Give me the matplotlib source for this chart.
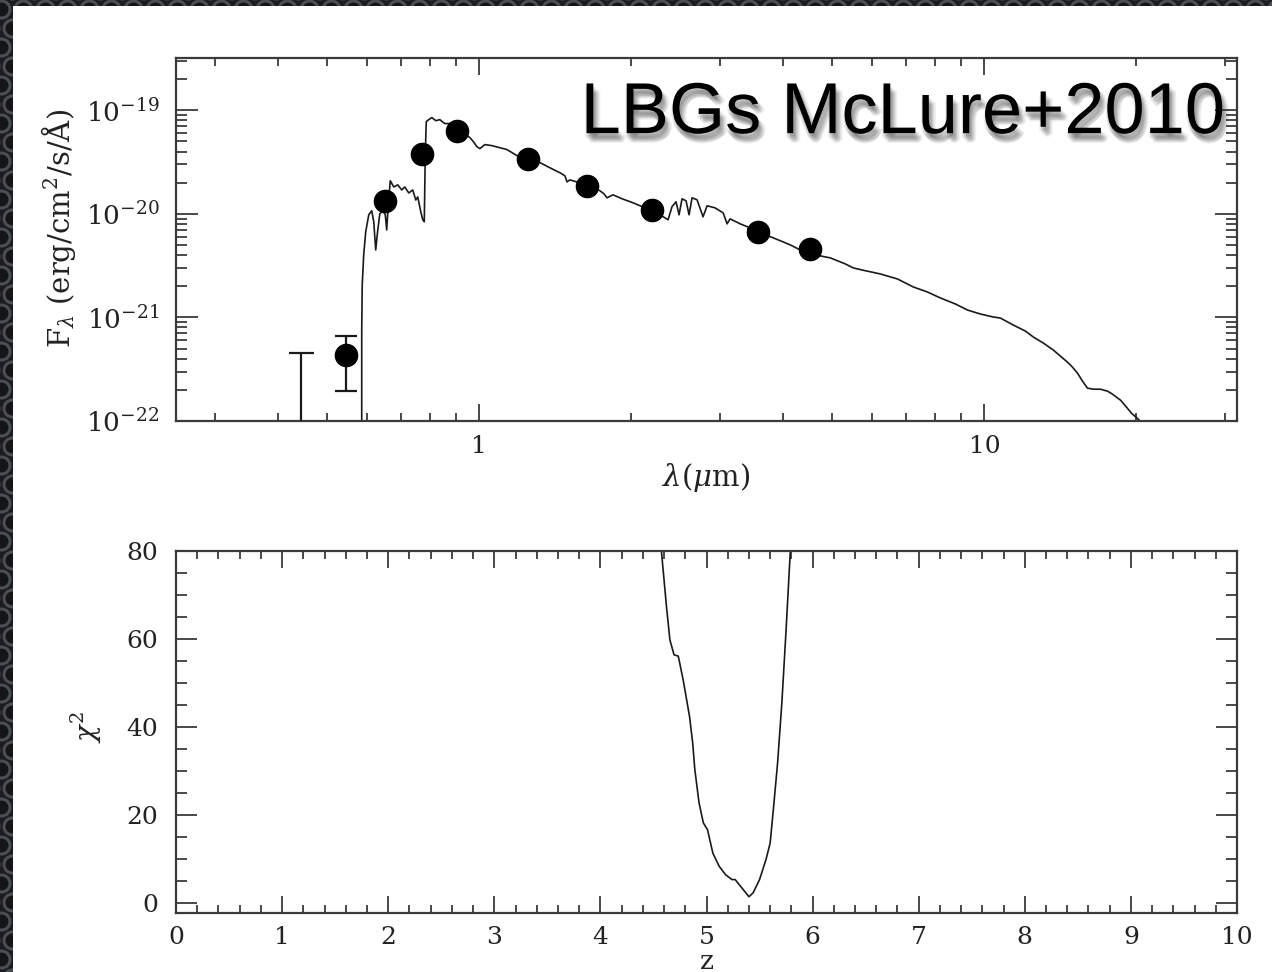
import numpy as np
import matplotlib
matplotlib.use('Agg')
import matplotlib.pyplot as plt
import matplotlib.patheffects as pe
from matplotlib.patches import Rectangle
from matplotlib.ticker import LogLocator, MultipleLocator, NullFormatter, FixedLocator, FixedFormatter

plt.rcParams['font.family'] = ['DejaVu Serif']
plt.rcParams['mathtext.fontset'] = 'dejavuserif'

# --- photometry (um, erg/cm2/s/A) ---
phot_lam = [0.546, 0.652, 0.769, 0.902, 1.25, 1.633, 2.20, 3.57, 4.51]
phot_flux = [4.33e-22, 1.34e-20, 3.82e-20, 6.31e-20, 3.39e-20, 1.87e-20, 1.10e-20, 6.67e-21, 4.56e-21]
phot_err_lo = [2.39e-22, 0, 0, 0, 0, 0, 0, 0.43e-21, 0.25e-21]
phot_err_hi = [2.32e-22, 0, 0, 0, 0, 0, 0, 0.46e-21, 0.26e-21]

# upper limit (bar going down out of the plot)
ulim_lam = [0.445]
ulim_flux = [4.55e-22]

sed_loglam = [-0.2324, -0.2324, -0.2314, -0.2285, -0.2245, -0.2185, -0.2126, -0.2086, -0.2047,
              -0.2017, -0.1967, -0.1908, -0.1858, -0.1829, -0.1799, -0.1759, -0.169, -0.1611,
              -0.1532, -0.1472, -0.1393, -0.1314, -0.1254, -0.1215, -0.1155, -0.1116, -0.1086,
              -0.1066, -0.1046, -0.0997, -0.0937, -0.0858, -0.0779, -0.068, -0.058, -0.0481,
              -0.0382, -0.0283, -0.0184, -0.0115, -0.0046, 0.0014, 0.0113, 0.0251, 0.041,
              0.0549, 0.0747, 0.0965, 0.1203, 0.1401, 0.1603, 0.1697, 0.1738, 0.1797, 0.1995,
              0.2193, 0.2391, 0.2471, 0.253, 0.2649, 0.2827, 0.3045, 0.3323, 0.358, 0.3739,
              0.3818, 0.3897, 0.3957, 0.4016, 0.4095, 0.4155, 0.4214, 0.4313, 0.4432, 0.4512,
              0.467, 0.4829, 0.4908, 0.4967, 0.5166, 0.5364, 0.5562, 0.5819, 0.6156, 0.6354,
              0.6652, 0.695, 0.7247, 0.7405, 0.7663, 0.794, 0.8277, 0.8594, 0.8871, 0.9129,
              0.9426, 0.9663, 0.9921, 1.0179, 1.0317, 1.0575, 1.0813, 1.0971, 1.1169, 1.1367,
              1.1506, 1.1645, 1.1744, 1.1843, 1.1942, 1.2041, 1.216, 1.2299, 1.2437, 1.2536,
              1.2695, 1.2814, 1.2913, 1.3091, 1.325]
sed_logflux = [-22.235, -21.125, -20.686, -20.396, -20.173, -20.009, -19.97, -20.076, -20.348,
               -20.202, -20.0, -19.97, -20.009, -20.155, -19.912, -19.68, -19.74, -19.72,
               -19.769, -19.74, -19.798, -19.769, -19.866, -19.836, -19.98, -20.057, -20.076,
               -19.41, -19.108, -19.09, -19.07, -19.10, -19.09, -19.128, -19.128, -19.166,
               -19.186, -19.234, -19.263, -19.302, -19.35, -19.37, -19.331, -19.341, -19.361,
               -19.379, -19.437, -19.467, -19.505, -19.555, -19.604, -19.632, -19.691, -19.672, -19.70,
               -19.728, -19.777, -19.806, -19.845, -19.816, -19.854, -19.893, -19.95, -20.009, -20.057,
               -19.93, -19.883, -20.009, -19.854, -19.874, -20.009, -19.845, -19.864, -20.028, -19.922,
               -19.942, -19.99, -20.096, -20.048, -20.096, -20.135, -20.183, -20.231, -20.299, -20.348,
               -20.396, -20.425, -20.483, -20.522, -20.551, -20.58, -20.628, -20.706, -20.754, -20.812,
               -20.87, -20.928, -20.967, -20.996, -21.006, -21.074, -21.132, -21.19, -21.248, -21.316,
               -21.374, -21.432, -21.48, -21.538, -21.615, -21.683, -21.693, -21.693, -21.712, -21.741,
               -21.799, -21.867, -21.925, -22.003, -22.09]

# --- chi^2 vs redshift ---
z_grid = [4.575, 4.623, 4.655, 4.694, 4.734, 4.78, 4.84, 4.87, 4.89, 4.93, 4.97, 5.01, 5.06,
          5.12, 5.18, 5.24, 5.27, 5.32, 5.40, 5.44, 5.50, 5.56, 5.60, 5.63, 5.67, 5.71, 5.75, 5.79]
chi2 = [80, 67.3, 59.8, 56.4, 56.1, 50.7, 42.4, 36.3, 30.3, 22.7, 18.2, 16.6, 11.3,
        8.3, 6.4, 5.3, 5.3, 3.8, 1.4, 2.3, 5.3, 9.8, 13.6, 21.2, 31.8, 45.4, 62, 80]

INK = '#1a1a1a'
AX = '#3a3a3a'
LBL = '#222222'

fig = plt.figure(figsize=(12.72, 9.72), dpi=100)

# dark textured backdrop with white slide
bg = fig.add_axes([0, 0, 1, 1], zorder=-10)
bg.set_xlim(0, 1272)
bg.set_ylim(972, 0)
bg.axis('off')
bg.add_patch(Rectangle((0, 0), 1272, 972, facecolor='#1b1c1f', edgecolor='none'))
gx, gy = np.meshgrid(np.arange(-10, 1290, 22), np.arange(-10, 990, 19))
gx = gx + (np.arange(gx.shape[0])[:, None] % 2) * 11
bg.scatter(gx.ravel(), gy.ravel(), s=150, facecolor='#141517', edgecolor='#4b4e53', linewidth=2.2)
bg.add_patch(Rectangle((13, 6), 1272, 972, facecolor='white', edgecolor='none', zorder=5))

ax1 = fig.add_axes([176 / 1272, 1 - 421 / 972, 1061 / 1272, 363 / 972])
ax2 = fig.add_axes([176 / 1272, 1 - 913 / 972, 1061 / 1272, 362 / 972])

for ax in (ax1, ax2):
    for s in ax.spines.values():
        s.set_color(AX)
        s.set_linewidth(1.6)
    ax.tick_params(which='both', direction='in', top=True, right=True, color=AX, width=1.3,
                   labelcolor=LBL)

# ---------------- top panel: SED ----------------
ax1.set_xscale('log')
ax1.set_yscale('log')
ax1.plot(10 ** np.array(sed_loglam), 10 ** np.array(sed_logflux), color=INK, lw=1.2, zorder=2)
ax1.errorbar(ulim_lam, ulim_flux, yerr=[[ulim_flux[0] * 0.9], [0]], fmt='none', ecolor=INK,
             elinewidth=1.6, capsize=9, capthick=1.6, zorder=3)
ax1.errorbar(phot_lam, phot_flux, yerr=[phot_err_lo, phot_err_hi], fmt='none', ecolor=INK,
             elinewidth=1.6, capsize=8, capthick=1.6, zorder=3)
ax1.plot(phot_lam, phot_flux, 'o', ms=16, color='black', zorder=4)

ax1.set_xlim(10 ** -0.6, 10 ** 1.5)
ax1.set_ylim(1e-22, 3.2e-19)
ax1.xaxis.set_major_locator(FixedLocator([1, 10]))
ax1.xaxis.set_major_formatter(FixedFormatter(['1', '10']))
ax1.xaxis.set_minor_locator(LogLocator(base=10, subs=np.arange(2, 10)))
ax1.xaxis.set_minor_formatter(NullFormatter())
ax1.yaxis.set_major_locator(FixedLocator([1e-22, 1e-21, 1e-20, 1e-19]))
ax1.yaxis.set_major_formatter(FixedFormatter([r'$10^{-22}$', r'$10^{-21}$', r'$10^{-20}$', r'$10^{-19}$']))
ax1.yaxis.set_minor_locator(LogLocator(base=10, subs=np.arange(2, 10), numticks=20))
ax1.yaxis.set_minor_formatter(NullFormatter())
ax1.tick_params(axis='x', which='major', length=12, labelsize=18, pad=10)
ax1.tick_params(axis='x', which='minor', length=6)
ax1.tick_params(axis='y', which='major', length=16, labelsize=19, pad=12)
ax1.tick_params(axis='y', which='minor', length=8)
ax1.set_xlabel(r'$\lambda(\mu$m)', fontsize=21, color=LBL)
ax1.xaxis.set_label_coords(0.5, -0.11)
ax1.set_ylabel(r'F$_\lambda$ (erg/cm$^2$/s/Å)', fontsize=21, color=LBL)
ax1.yaxis.set_label_coords(-0.092, 0.53)

shadow = [pe.SimplePatchShadow(offset=o, shadow_rgbFace='#444444', alpha=0.09)
          for o in [(1, -2), (2, -3), (3, -4), (0, -4), (4, -6), (2, -6), (-1, -3),
                    (1, -5), (3, -7), (5, -5)]]
ax1.text(0.9887, 0.793, 'LBGs McLure+2010', transform=ax1.transAxes, ha='right', va='baseline',
         fontsize=52, family='Liberation Sans', color='black',
         path_effects=shadow + [pe.Normal()], zorder=6)

# ---------------- bottom panel: chi^2(z) ----------------
ax2.plot(z_grid, chi2, color=INK, lw=1.2)
ax2.set_xlim(0, 10)
ax2.set_ylim(-2.3, 80)
ax2.xaxis.set_major_locator(MultipleLocator(1))
ax2.xaxis.set_minor_locator(MultipleLocator(0.2))
ax2.yaxis.set_major_locator(MultipleLocator(20))
ax2.yaxis.set_minor_locator(MultipleLocator(5))
ax2.tick_params(axis='x', which='major', length=12, labelsize=18, pad=9)
ax2.tick_params(axis='x', which='minor', length=5.5)
ax2.tick_params(axis='y', which='major', length=15, labelsize=18, pad=13)
ax2.tick_params(axis='y', which='minor', length=7.7)
ax2.set_xlabel('z', fontsize=19, color=LBL)
ax2.xaxis.set_label_coords(0.5, -0.10)
ax2.set_ylabel(r'$\chi^2$', fontsize=20, color=LBL)
ax2.yaxis.set_label_coords(-0.068, 0.514)

fig.savefig('out.png', dpi=100)
